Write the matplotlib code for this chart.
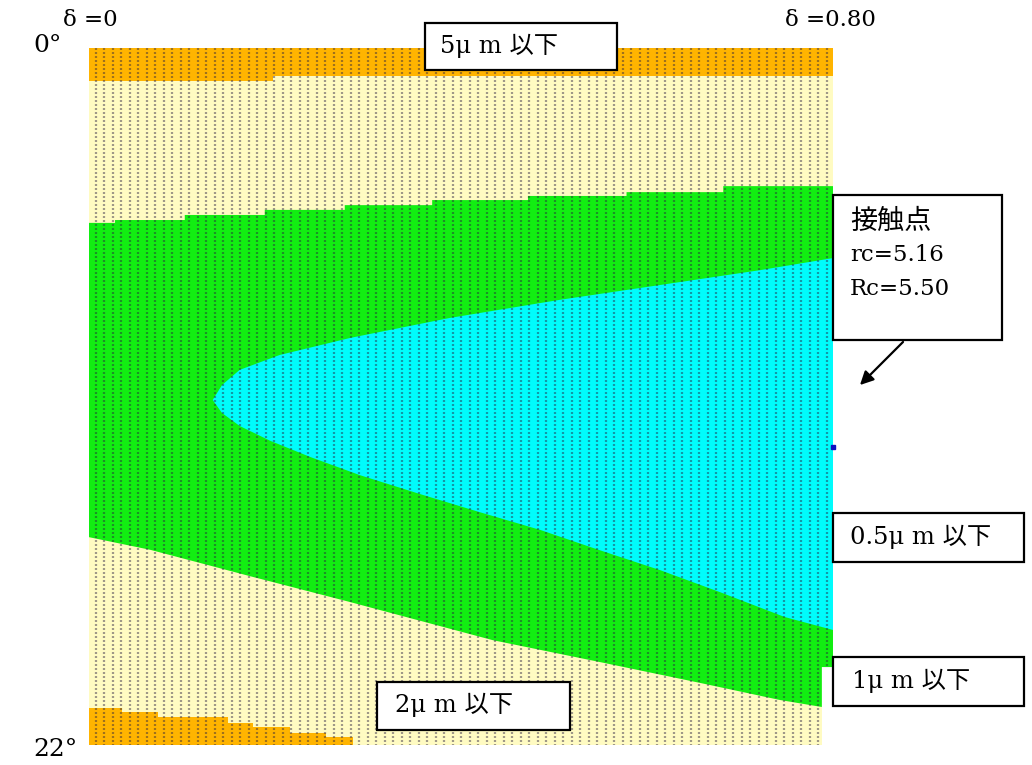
import numpy as np
import matplotlib.pyplot as plt
from matplotlib.patches import Polygon, Rectangle, FancyArrowPatch

# delta runs 0 .. 0.80 across, angle runs 0 .. 22 deg downward
D_MAX = 0.80
A_MAX = 22.0

# upper 5um band: lower edge (step)
top_orange_edges = [0.0, 0.198, 0.80]
top_orange_angle = [1.04, 0.88]

# 1um zone: upper edge (step)
green_top_edges = [0.0, 0.028, 0.103, 0.189, 0.275, 0.369, 0.472, 0.578, 0.682, 0.80]
green_top_angle = [5.52, 5.43, 5.27, 5.11, 4.96, 4.80, 4.67, 4.55, 4.36]

# 1um zone: lower edge
green_bot_delta = [0.0, 0.066, 0.173, 0.281, 0.434, 0.549, 0.657, 0.743, 0.788]
green_bot_angle = [15.44, 15.84, 16.67, 17.49, 18.69, 19.38, 20.04, 20.58, 20.80]

# 0.5um zone outline, upper edge from the right side to the tip, then lower edge
cyan_top_delta = [0.800, 0.722, 0.635, 0.506, 0.388, 0.281, 0.205, 0.162, 0.143, 0.133]
cyan_top_angle = [6.63, 7.01, 7.39, 7.95, 8.52, 9.15, 9.69, 10.16, 10.64, 11.11]
cyan_bot_delta = [0.143, 0.162, 0.195, 0.238, 0.291, 0.356, 0.420, 0.485, 0.549, 0.614, 0.678, 0.748, 0.800]
cyan_bot_angle = [11.52, 11.93, 12.40, 12.91, 13.48, 14.08, 14.65, 15.21, 15.85, 16.48, 17.17, 17.96, 18.37]

# lower-left 5um patch: upper edge (step)
bot_orange_edges = [0.0, 0.035, 0.074, 0.149, 0.176, 0.216, 0.255, 0.284]
bot_orange_angle = [20.83, 20.96, 21.12, 21.31, 21.43, 21.62, 21.75]

# grid trimmed at the lower right
notch_delta = 0.788
notch_angle = 19.54

contact_delta = 0.80
contact_angle = 12.6

C_ORANGE = '#FFB400'
C_BEIGE = '#FFFBC2'
C_GREEN = '#12EE12'
C_CYAN = '#00FCFC'

W, H = 1032, 765


def steps(edges, vals):
    pts = []
    for i, v in enumerate(vals):
        pts.append((edges[i], v))
        pts.append((edges[i + 1], v))
    return pts


def fx(px):
    return px / W


def fy(py):
    return 1 - py / H


fig = plt.figure(figsize=(W / 100, H / 100), dpi=100)
ax = fig.add_axes([fx(89), fy(745), (833 - 89) / W, (745 - 48) / H])
ax.set_xlim(0, D_MAX)
ax.set_ylim(A_MAX, 0)
ax.axis('off')

outline = [(0, 0), (D_MAX, 0), (D_MAX, notch_angle), (notch_delta, notch_angle),
           (notch_delta, A_MAX), (0, A_MAX)]
bg = Polygon(outline, closed=True, fc=C_BEIGE, ec='none')
ax.add_patch(bg)

# 5um band along the top
pts = [(0, 0), (D_MAX, 0)] + steps(top_orange_edges, top_orange_angle)[::-1]
ax.add_patch(Polygon(pts, closed=True, fc=C_ORANGE, ec='none'))

# 1um zone
pts = steps(green_top_edges, green_top_angle)
pts += [(D_MAX, notch_angle), (notch_delta, notch_angle)]
pts += list(zip(green_bot_delta, green_bot_angle))[::-1]
ax.add_patch(Polygon(pts, closed=True, fc=C_GREEN, ec='none'))

# 0.5um zone
pts = list(zip(cyan_top_delta, cyan_top_angle)) + list(zip(cyan_bot_delta, cyan_bot_angle))
ax.add_patch(Polygon(pts, closed=True, fc=C_CYAN, ec='none'))

# 5um patch in the lower-left corner
pts = steps(bot_orange_edges, bot_orange_angle) + [(bot_orange_edges[-1], A_MAX), (0, A_MAX)]
ax.add_patch(Polygon(pts, closed=True, fc=C_ORANGE, ec='none'))

# dotted grid texture
for xc in np.arange(0.0075, D_MAX, 0.00914):
    ln, = ax.plot([xc, xc], [0, A_MAX], color='#2a2040', alpha=0.45, lw=1.6,
                  linestyle=(0, (0.9, 0.9)), solid_capstyle='butt')
    ln.set_clip_path(bg)

ax.plot([contact_delta], [contact_angle], marker='s', ms=3, color='#1010c0',
        clip_on=False)

fam = ['DejaVu Serif', 'Noto Sans CJK JP']

fig.text(fx(33), fy(45), '0°', family=fam, fontsize=18, ha='left', va='center')
fig.text(fx(33), fy(750), '22°', family=fam, fontsize=18, ha='left', va='center')
fig.text(fx(63), fy(20), 'δ =0', family=fam, fontsize=16.5, ha='left', va='center')
fig.text(fx(785), fy(20), 'δ =0.80', family=fam, fontsize=16.5, ha='left', va='center')


def box(x0, y0, x1, y1):
    fig.patches.append(Rectangle((fx(x0), fy(y1)), (x1 - x0) / W, (y1 - y0) / H,
                                 transform=fig.transFigure, fc='white', ec='black',
                                 lw=1.6, zorder=5))


box(425, 23, 617, 70)
fig.text(fx(440), fy(46), '5μ m 以下', family=fam, fontsize=17.5, ha='left', va='center', zorder=6)

box(377, 682, 570, 730)
fig.text(fx(395), fy(705), '2μ m 以下', family=fam, fontsize=17.5, ha='left', va='center', zorder=6)

box(833, 513, 1024, 562)
fig.text(fx(850), fy(537), '0.5μ m 以下', family=fam, fontsize=17.5, ha='left', va='center', zorder=6)

box(833, 657, 1024, 706)
fig.text(fx(852), fy(681), '1μ m 以下', family=fam, fontsize=17.5, ha='left', va='center', zorder=6)

box(833, 195, 1002, 340)
fig.text(fx(850), fy(221), '接触点', family=fam, fontsize=19.5, ha='left', va='center', zorder=6)
fig.text(fx(850), fy(255), 'rc=5.16', family=fam, fontsize=16.5, ha='left', va='center', zorder=6)
fig.text(fx(850), fy(289), 'Rc=5.50', family=fam, fontsize=16.5, ha='left', va='center', zorder=6)

fig.patches.append(FancyArrowPatch((fx(905), fy(340)), (fx(858), fy(387)),
                                   transform=fig.transFigure, arrowstyle='-|>',
                                   mutation_scale=20, lw=1.6, color='black', zorder=6))

fig.savefig('out.png', dpi=100, facecolor='white')
